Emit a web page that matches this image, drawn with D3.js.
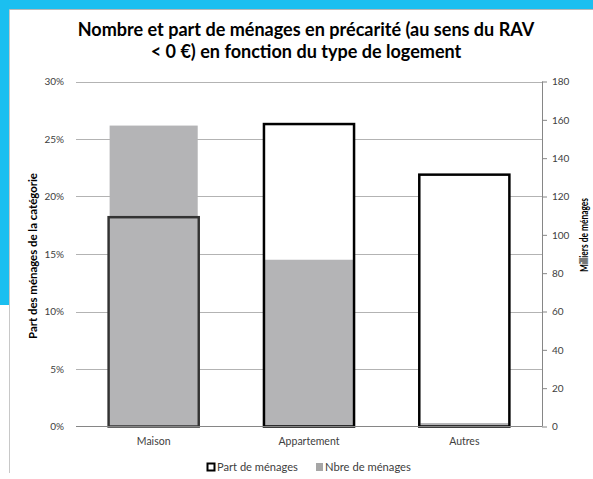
<!DOCTYPE html>
<html>
<head>
<meta charset="utf-8">
<script src="https://cdn.jsdelivr.net/npm/d3@7"></script>
<style>
  body { margin: 0; background: #fff; }
  svg { display: block; font-family: Lato, "Open Sans", sans-serif; }
</style>
</head>
<body>
<script>
// donnees
var categories = ["Maison", "Appartement", "Autres"];
var partMenages = [0.182, 0.263, 0.219];   // axe gauche
var nbreMenages = [157, 87, 1.8];          // axe droit, milliers
var leftTicks = [0, 0.05, 0.10, 0.15, 0.20, 0.25, 0.30];
var rightTicks = [0, 20, 40, 60, 80, 100, 120, 140, 160, 180];

var width = 593, height = 479;
var plot = { left: 76, right: 542, top: 81.5, bottom: 426.5 };

var svg = d3.select("body").append("svg")
    .attr("width", width)
    .attr("height", height);

// cadre cyan + bordure
svg.append("rect").attr("x", 0).attr("y", 0).attr("width", width).attr("height", 10).attr("fill", "#1bbff0");
svg.append("rect").attr("x", 0).attr("y", 0).attr("width", 10).attr("height", 305).attr("fill", "#1bbff0");
svg.append("line").attr("x1", 9.5).attr("x2", width).attr("y1", 9.5).attr("y2", 9.5).attr("stroke", "#b8b8b8");
svg.append("line").attr("x1", 9.5).attr("x2", 9.5).attr("y1", 9.5).attr("y2", 473).attr("stroke", "#c8c8c8");

var x = d3.scaleBand()
    .domain(categories)
    .range([plot.left, plot.right])
    .paddingInner(0.42)
    .paddingOuter(0.21);

var yLeft = d3.scaleLinear().domain([0, 0.30]).range([plot.bottom, plot.top]);
var yRight = d3.scaleLinear().domain([0, 180]).range([plot.bottom, plot.top]);

// petite fonction pour caler un texte sur une largeur donnee
function fitWidth(sel, base, target) {
    var w = sel.node().getComputedTextLength();
    sel.style("font-size", (base * target / w) + "px");
}

// grille
svg.append("g").attr("class", "grid")
    .selectAll("line")
    .data(leftTicks.slice(1))
    .enter().append("line")
    .attr("x1", plot.left).attr("x2", plot.right)
    .attr("y1", function(d) { return Math.round(yLeft(d)) + 0.5; })
    .attr("y2", function(d) { return Math.round(yLeft(d)) + 0.5; })
    .attr("stroke", "#b3b3b3");

// barres "part" (contour) - fond blanc
svg.append("g")
    .selectAll("rect")
    .data(partMenages)
    .enter().append("rect")
    .attr("x", function(d, i) { return x(categories[i]); })
    .attr("y", function(d) { return yLeft(d); })
    .attr("width", x.bandwidth())
    .attr("height", function(d) { return yLeft(0) - yLeft(d); })
    .attr("fill", "#fff");

// barres "nombre" (gris)
svg.append("g")
    .selectAll("rect")
    .data(nbreMenages)
    .enter().append("rect")
    .attr("x", function(d, i) { return x(categories[i]) + 1; })
    .attr("y", function(d) { return yRight(d); })
    .attr("width", x.bandwidth() - 2)
    .attr("height", function(d) { return yRight(0) - yRight(d); })
    .attr("fill", "#b4b4b6");

// contours par-dessus
svg.append("g")
    .selectAll("rect")
    .data(partMenages)
    .enter().append("rect")
    .attr("x", function(d, i) { return x(categories[i]); })
    .attr("y", function(d) { return yLeft(d); })
    .attr("width", x.bandwidth())
    .attr("height", function(d) { return yLeft(0) - yLeft(d); })
    .attr("fill", "none")
    .attr("stroke", function(d, i) { return i === 0 ? "#333" : "#000"; })
    .attr("stroke-width", 2.5);

// ligne de base
svg.append("line")
    .attr("x1", plot.left).attr("x2", plot.right)
    .attr("y1", plot.bottom).attr("y2", plot.bottom)
    .attr("stroke", "#868686");

// axe gauche
var axisLeft = svg.append("g")
    .attr("transform", "translate(" + plot.left + ",0)")
    .call(d3.axisLeft(yLeft).tickValues(leftTicks).tickFormat(d3.format(".0%")).tickSize(0).tickPadding(12));
axisLeft.select(".domain").remove();
axisLeft.selectAll("text").style("font-size", "10px").attr("fill", "#404040").style("font-family", "Lato, sans-serif");

// axe droit
var axisRight = svg.append("g")
    .attr("transform", "translate(" + plot.right + ",0)")
    .call(d3.axisRight(yRight).tickValues(rightTicks).tickSize(5).tickPadding(5));
axisRight.select(".domain").attr("stroke", "#868686").attr("d", "M0.5," + plot.top + "V" + plot.bottom);
axisRight.selectAll(".tick line").attr("stroke", "#868686");
axisRight.selectAll("text").style("font-size", "10px").attr("fill", "#404040").style("font-family", "Lato, sans-serif");

// categories
svg.append("g")
    .selectAll("text")
    .data(categories)
    .enter().append("text")
    .attr("x", function(d) { return x(d) + x.bandwidth() / 2; })
    .attr("y", 445)
    .attr("text-anchor", "middle")
    .style("font-size", "10.5px")
    .attr("fill", "#404040")
    .text(function(d) { return d; });

// titre
var title = svg.append("text")
    .attr("text-anchor", "middle")
    .style("font-weight", "bold")
    .style("font-size", "16px")
    .attr("fill", "#000");
title.append("tspan").attr("x", 306).attr("y", 36).text("Nombre et part de ménages en précarité (au sens du RAV");
title.append("tspan").attr("x", 306).attr("y", 58).text("< 0 €) en fonction du type de logement");
var w = title.select("tspan").node().getComputedTextLength();
title.style("font-size", (16 * 457 / w) + "px");

// titres des axes
var yTitleLeft = svg.append("text")
    .attr("transform", "translate(37,256) rotate(-90)")
    .attr("text-anchor", "middle")
    .style("font-size", "9px")
    .style("font-weight", "bold")
    .text("Part des ménages de la catégorie");
fitWidth(yTitleLeft, 9, 166);

svg.append("text")
    .attr("transform", "translate(588,235) rotate(-90)")
    .attr("text-anchor", "middle")
    .style("font-size", "10.5px")
    .style("font-weight", "bold")
    .attr("textLength", 74)
    .attr("lengthAdjust", "spacingAndGlyphs")
    .text("Milliers de ménages");

// legende
var legend = svg.append("g").attr("fill", "#404040");
legend.append("rect").attr("x", 207.5).attr("y", 463.5).attr("width", 7).attr("height", 7)
    .attr("fill", "#fff").attr("stroke", "#000").attr("stroke-width", 2);
var t1 = legend.append("text").attr("x", 217).attr("y", 471).style("font-size", "10px").text("Part de ménages");
fitWidth(t1, 10, 81);
legend.append("rect").attr("x", 316).attr("y", 463).attr("width", 7).attr("height", 8).attr("fill", "#a6a6a6");
var t2 = legend.append("text").attr("x", 325).attr("y", 471).style("font-size", "10px").text("Nbre de ménages");
fitWidth(t2, 10, 86);
</script>
</body>
</html>
